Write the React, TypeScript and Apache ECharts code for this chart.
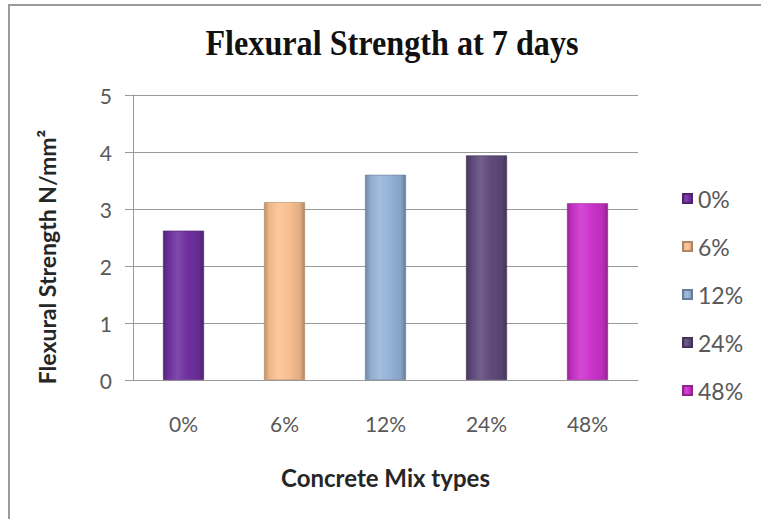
import React, { useEffect, useRef } from "react";
import * as echarts from "echarts";

const categories = ["0%", "6%", "12%", "24%", "48%"];
const strengths = [2.62, 3.12, 3.6, 3.94, 3.1];
const barColors = ["#7030A0", "#FAC090", "#95B3D7", "#604A7B", "#CC33CC"];
const yTicks = [0, 1, 2, 3, 4, 5];

function shade(hex: string, amt: number): string {
  const n = parseInt(hex.slice(1), 16);
  let r = (n >> 16) & 255, g = (n >> 8) & 255, b = n & 255;
  const f = (c: number) =>
    Math.round(amt >= 0 ? c + (255 - c) * amt : c * (1 + amt));
  r = f(r); g = f(g); b = f(b);
  return "#" + ((1 << 24) | (r << 16) | (g << 8) | b).toString(16).slice(1);
}

function glossy(hex: string) {
  return new echarts.graphic.LinearGradient(0, 0, 1, 0, [
    { offset: 0, color: shade(hex, -0.25) },
    { offset: 0.12, color: shade(hex, -0.05) },
    { offset: 0.35, color: shade(hex, 0.12) },
    { offset: 0.6, color: hex },
    { offset: 0.88, color: shade(hex, -0.1) },
    { offset: 1, color: shade(hex, -0.3) },
  ]);
}

export default function App() {
  const ref = useRef<HTMLDivElement>(null);

  useEffect(() => {
    if (!ref.current) return;
    const chart = echarts.init(ref.current, null, { renderer: "svg" });

    const series = categories.map((name, i) => ({
      name,
      type: "bar" as const,
      barWidth: 41,
      barGap: "-100%",
      data: categories.map((_, j) => (j === i ? strengths[i] : null)),
      itemStyle: {
        color: glossy(barColors[i]),
        borderColor: shade(barColors[i], -0.3),
        borderWidth: 0.6,
      },
    }));

    chart.setOption({
      animation: false,
      backgroundColor: "#ffffff",
      textStyle: { fontFamily: "Lato" },
      grid: { left: 133, right: 123, top: 95, bottom: 139 },
      legend: {
        orient: "vertical",
        left: 677,
        top: 182,
        itemWidth: 9,
        itemHeight: 9,
        itemGap: 25,
        icon: "rect",
        data: categories,
        textStyle: { fontSize: 23, color: "#595959", fontFamily: "Lato", padding: [0, 0, 0, 1] },
      },
      xAxis: {
        type: "category",
        data: categories,
        name: "Concrete Mix types",
        nameLocation: "middle",
        nameGap: 85,
        nameTextStyle: { fontSize: 24, fontWeight: "bold", color: "#262626", fontFamily: "Lato" },
        axisLine: { lineStyle: { color: "#9a9a9a", width: 1 } },
        axisTick: { show: false },
        axisLabel: { fontSize: 21, color: "#595959", margin: 33, fontFamily: "Lato" },
      },
      yAxis: {
        type: "value",
        min: yTicks[0],
        max: yTicks[yTicks.length - 1],
        interval: 1,
        axisLine: { show: true, lineStyle: { color: "#9a9a9a", width: 1 } },
        axisTick: { show: true, length: 8, lineStyle: { color: "#9a9a9a" } },
        axisLabel: { fontSize: 21, color: "#595959", margin: 21, fontFamily: "Lato" },
        splitLine: { lineStyle: { color: "#9a9a9a", width: 1 } },
      },
      graphic: [
        {
          type: "rect",
          shape: { x: 9, y: 5, width: 800, height: 600 },
          style: { fill: "none", stroke: "#9a9a9a", lineWidth: 2 },
          silent: true,
        },
        {
          type: "text",
          x: 392,
          y: 43,
          scaleX: 0.92,
          style: {
            text: "Flexural Strength at 7 days",
            fontFamily: "Liberation Serif",
            fontWeight: "bold",
            fontSize: 35,
            fill: "#111111",
            textAlign: "center",
            textVerticalAlign: "middle",
          },
        },
        {
          type: "text",
          x: 47,
          y: 257,
          rotation: Math.PI / 2,
          style: {
            text: "Flexural Strength N/mm²",
            fontFamily: "Lato",
            fontWeight: "bold",
            fontSize: 23,
            fill: "#262626",
            textAlign: "center",
            textVerticalAlign: "middle",
          },
        },
      ],
      series,
    });

    return () => chart.dispose();
  }, []);

  return (
    <div
      ref={ref}
      style={{ position: "fixed", left: 0, top: 0, width: 761, height: 519 }}
    />
  );
}
